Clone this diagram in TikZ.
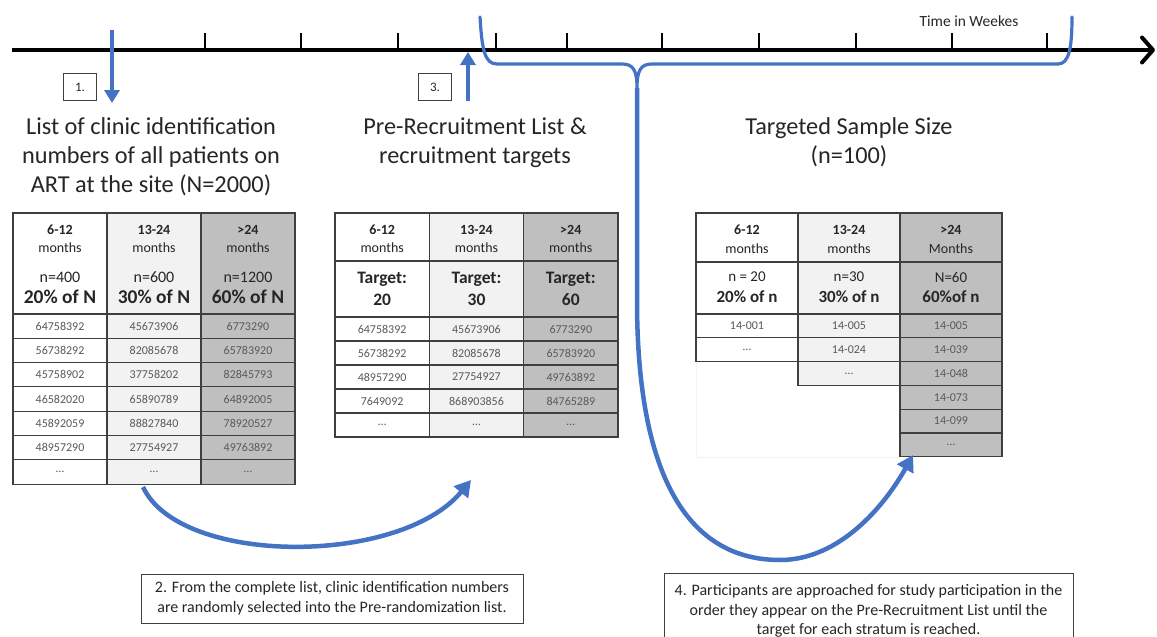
\documentclass[tikz,border=0pt]{standalone}
\usepackage{fontspec}
\setmainfont{Carlito}
\usetikzlibrary{arrows.meta}
\definecolor{bl}{HTML}{4472C4}
\definecolor{lg}{HTML}{F2F2F2}
\definecolor{dg}{HTML}{BFBFBF}
\definecolor{bd}{HTML}{3F3F3F}
\definecolor{tx}{HTML}{262626}
\definecolor{nx}{HTML}{595959}
\begin{document}
\begin{tikzpicture}[x=1pt,y=-1pt,
 cell/.style={draw=bd, line width=1.1pt, anchor=north west, inner sep=0pt, outer sep=0pt, text=nx, font=\fontsize{12}{13}\selectfont},
 hd/.style={font=\bfseries\fontsize{14}{16}\selectfont, text=tx},
 hm/.style={font=\fontsize{14}{16}\selectfont, text=tx},
 mid/.style={font=\fontsize{16}{18}\selectfont, text=tx},
 bigA/.style={font=\bfseries\fontsize{19.5}{22}\selectfont, text=tx},
 bigB/.style={font=\bfseries\fontsize{17.5}{20}\selectfont, text=tx},
 bigC/.style={font=\bfseries\fontsize{17}{20}\selectfont, text=tx},
 midC/.style={font=\fontsize{15}{17}\selectfont, text=tx},
 sep/.style={draw=bd, line width=2.4pt},
 title/.style={font=\fontsize{24.3}{29}\selectfont, text=tx, align=center},
 note/.style={draw=bd, line width=0.9pt, inner sep=0pt, align=center, text=tx},
 numbox/.style={draw=bd, line width=0.9pt, inner sep=0pt, minimum width=33pt, minimum height=27pt, font=\fontsize{13}{15}\selectfont, text=tx},
 tick/.style={line width=2pt, black},
 flowS/.style={draw=bl, line width=4pt, -{Triangle[length=13pt,width=15pt]}},
 flowC/.style={draw=bl, line width=4.5pt, -{Triangle[length=16pt,width=18pt]}},
 brace/.style={draw=bl, line width=3.2pt, line cap=round, line join=round}
]
\useasboundingbox (0,0) rectangle (1157,637);
\fill[white] (0,0) rectangle (1157,637);

% ---------------- timeline ----------------
\coordinate (ts) at (12,50);
\coordinate (te) at (1155,50);
\draw[line width=4pt, -{Straight Barb[length=11pt,width=25pt,round]}] (ts) -- (te);
\foreach \x [count=\k] in {205,301,398,496,567,662,759,856,952,1047}{
  \coordinate (tk\k) at (\x,33);
  \draw[tick] (tk\k) -- (tk\k |- ts);
}
\node[font=\fontsize{15.5}{17}\selectfont, text=tx] (tw) at (969,21) {Time in Weekes};

% ---------------- step markers ----------------
\node[numbox] (b1) at (80,87) {1.};
\node[numbox] (b3) at (435,87) {3.};
\coordinate (a1s) at (112,30);
\coordinate (a1e) at (112,103);
\draw[flowS] (a1s) -- (a1e);
\coordinate (a3s) at (468,101);
\coordinate (a3e) at (468,52);
\draw[flowS] (a3s) -- (a3e);

% ---------------- titles ----------------
\node[title] (t1) at (151,157) {List of clinic identification\\numbers of all patients on\\ART at the site (N=2000)};
\node[title] (t2) at (475,142.5) {Pre-Recruitment List \&\\recruitment targets};
\node[title] (t3) at (849,142.5) {Targeted Sample Size\\(n=100)};

% ---------------- table 1 ----------------
\foreach \j/\x/\f in {1/13/white,2/107/lg,3/201/dg}{
  \node[cell, fill=\f, minimum width=94pt, minimum height=101pt] (ta\j h) at (\x,213) {};
}
\foreach \j/\x/\t/\n/\p in {1/60/6-12/n=400/20\% of N, 2/154/13-24/n=600/30\% of N, 3/248/>24/n=1200/60\% of N}{
  \node[hd] (ta\j a) at (\x,230) {\t};
  \node[hm] (ta\j b) at (\x,248) {months};
  \node[mid] (ta\j c) at (\x,277) {\n};
  \node[bigA] (ta\j d) at (\x,297) {\p};
}
\foreach \v [count=\i from 0] in {64758392,56738292,45758902,46582020,45892059,48957290,\dots}{
  \node[cell, fill=white, minimum width=94pt, minimum height=24.3pt] (ta1r\i) at (13,{314+24.3*\i}) {\v};
}
\foreach \v [count=\i from 0] in {45673906,82085678,37758202,65890789,88827840,27754927,\dots}{
  \node[cell, fill=lg, minimum width=94pt, minimum height=24.3pt] (ta2r\i) at (107,{314+24.3*\i}) {\v};
}
\foreach \v [count=\i from 0] in {6773290,65783920,82845793,64892005,78920527,49763892,\dots}{
  \node[cell, fill=dg, minimum width=94pt, minimum height=24.3pt] (ta3r\i) at (201,{314+24.3*\i}) {\v};
}
\draw[sep] (ta1h.south west) -- (ta3h.south east);

% ---------------- table 2 ----------------
\foreach \j/\x/\f in {1/335/white,2/429.3/lg,3/523.7/dg}{
  \node[cell, fill=\f, minimum width=94.3pt, minimum height=48pt] (tb\j h) at (\x,213) {};
  \node[cell, fill=\f, minimum width=94.3pt, minimum height=56pt] (tb\j g) at (\x,261) {};
}
\foreach \j/\x/\t/\n in {1/382.2/6-12/20, 2/476.5/13-24/30, 3/570.8/>24/60}{
  \node[hd] (tb\j a) at (\x,230) {\t};
  \node[hm] (tb\j b) at (\x,248) {months};
  \node[bigB] (tb\j c) at (\x,279) {Target:};
  \node[bigB] (tb\j d) at (\x,300) {\n};
}
\foreach \v [count=\i from 0] in {64758392,56738292,48957290,7649092,\dots}{
  \node[cell, fill=white, minimum width=94.3pt, minimum height=24pt] (tb1r\i) at (335,{317+24*\i}) {\v};
}
\foreach \v [count=\i from 0] in {45673906,82085678,27754927,868903856,\dots}{
  \node[cell, fill=lg, minimum width=94.3pt, minimum height=24pt] (tb2r\i) at (429.3,{317+24*\i}) {\v};
}
\foreach \v [count=\i from 0] in {6773290,65783920,49763892,84765289,\dots}{
  \node[cell, fill=dg, minimum width=94.3pt, minimum height=24pt] (tb3r\i) at (523.7,{317+24*\i}) {\v};
}
\draw[sep] (tb1g.south west) -- (tb3g.south east);

% ---------------- table 3 ----------------
\draw[black!5, line width=0.6pt] (696,362) -- (696,457) -- (900,457);
\foreach \j/\x/\f in {1/696/white,2/798/lg,3/900/dg}{
  \node[cell, fill=\f, minimum width=102pt, minimum height=49pt] (tc\j h) at (\x,213) {};
  \node[cell, fill=\f, minimum width=102pt, minimum height=52pt] (tc\j g) at (\x,262) {};
}
\foreach \j/\x/\t/\m/\n/\p in {1/747/6-12/months/n = 20/20\% of n, 2/849/13-24/months/n=30/30\% of n, 3/951/>24/Months/N=60/60\%of n}{
  \node[hd] (tc\j a) at (\x,230) {\t};
  \node[hm] (tc\j b) at (\x,249) {\m};
  \node[midC] (tc\j c) at (\x,277) {\n};
  \node[bigC] (tc\j d) at (\x,297) {\p};
}
\foreach \v [count=\i from 0] in {14-001,\dots}{
  \node[cell, fill=white, minimum width=102pt, minimum height=23.8pt] (tc1r\i) at (696,{314+23.8*\i}) {\v};
}
\foreach \v [count=\i from 0] in {14-005,14-024,\dots}{
  \node[cell, fill=lg, minimum width=102pt, minimum height=23.8pt] (tc2r\i) at (798,{314+23.8*\i}) {\v};
}
\foreach \v [count=\i from 0] in {14-005,14-039,14-048,14-073,14-099,\dots}{
  \node[cell, fill=dg, minimum width=102pt, minimum height=23.8pt] (tc3r\i) at (900,{314+23.8*\i}) {\v};
}
\draw[sep] (tc1g.south west) -- (tc3g.south east);

% ---------------- notes ----------------
\node[note, font=\fontsize{16}{20}\selectfont, minimum width=382pt, minimum height=49pt] (n2) at (332,598.5)
  {2. From the complete list, clinic identification numbers\\are randomly selected into the Pre-randomization list.};
\node[note, font=\fontsize{16}{19.5}\selectfont, minimum width=409pt, minimum height=76pt] (n4) at (868.5,611)
  {4. Participants are approached for study participation in the\\order they appear on the Pre-Recruitment List until the\\target for each stratum is reached.};

% ---------------- curved arrow 2 ----------------
\coordinate (c2s) at (143,487);
\coordinate (c2e) at (471,480);
\draw[flowC] (c2s) .. controls (180,566) and (400,566) .. (c2e);

% ---------------- brace and arrow 4 ----------------
\coordinate (brL) at (480,17);
\coordinate (brR) at (1072,17);
\coordinate (vtip) at (637,88);
\draw[brace] (brL) .. controls (482,48) and (484,64) .. (497,64) -- (622,64)
   .. controls (633,64) and (637,70) .. (vtip)
   .. controls (637,70) and (641,64) .. (652,64) -- (1058,64)
   .. controls (1069,64) and (1072,48) .. (brR);
\coordinate (c4e) at (913,455);
\draw[flowC] (vtip) -- (637,300) .. controls (637,480) and (690,560) .. (780,560)
   .. controls (840,560) and (885,505) .. (c4e);
\end{tikzpicture}
\end{document}
